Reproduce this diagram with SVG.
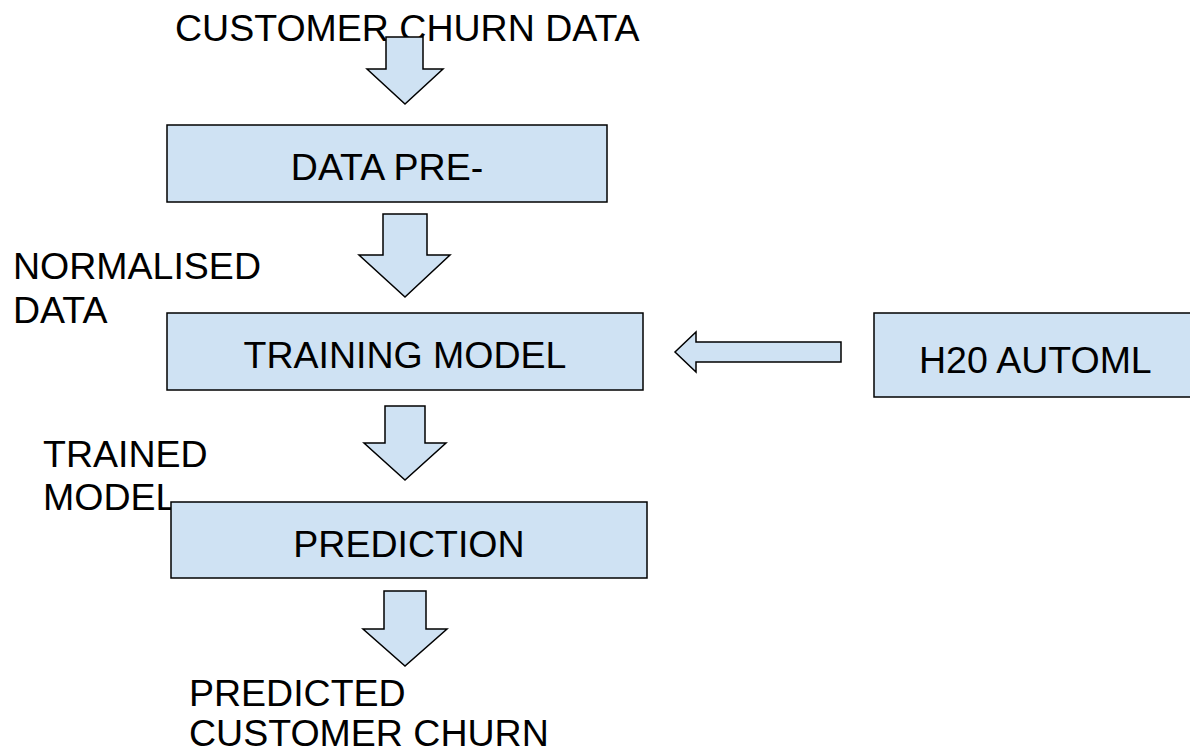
<svg xmlns="http://www.w3.org/2000/svg" width="1190" height="754" viewBox="0 0 1190 754">
<style>
.box{fill:#cfe2f3;stroke:#000;stroke-width:1.5}
.arr{fill:#cfe2f3;stroke:#000;stroke-width:1.5;stroke-linejoin:miter}
text{font-family:"Liberation Sans",Arial,sans-serif;font-size:37.5px;fill:#000}
.c{text-anchor:middle}
</style>
<rect width="1190" height="754" fill="#fff"/>
<g id="label-input"><text x="175" y="41">CUSTOMER CHURN DATA</text></g>
<g id="label-normalised"><text x="13" y="279">NORMALISED</text><text x="13" y="323">DATA</text></g>
<g id="label-trained"><text x="43" y="467">TRAINED</text><text x="43" y="510">MODEL</text></g>
<g id="label-output"><text x="189" y="706">PREDICTED</text><text x="189" y="746">CUSTOMER CHURN</text></g>
<g id="connectors">
<polygon class="arr" points="386,37 423,37 423,69 443,69 405,104 367,69 386,69"/>
<polygon class="arr" points="383,214 427,214 427,255 450,255 405,297 359,255 383,255"/>
<polygon class="arr" points="385,406 425,406 425,443 446,443 405,480 364,443 385,443"/>
<polygon class="arr" points="384,591 426,591 426,629 447,629 405,666 363,629 384,629"/>
<polygon class="arr" points="841,342 841,362 696,362 696,372 675,352 696,332 696,342"/>
</g>
<g id="node-preprocess"><rect class="box" x="167" y="125" width="440" height="77"/><text class="c" x="387" y="180">DATA PRE-</text></g>
<g id="node-training"><rect class="box" x="167" y="313" width="476" height="77"/><text class="c" x="405" y="368">TRAINING MODEL</text></g>
<g id="node-h2o"><rect class="box" x="874" y="313" width="320" height="84"/><text x="919" y="373">H20 AUTOML</text></g>
<g id="node-prediction"><rect class="box" x="171" y="502" width="476" height="76"/><text class="c" x="409" y="557">PREDICTION</text></g>
</svg>
